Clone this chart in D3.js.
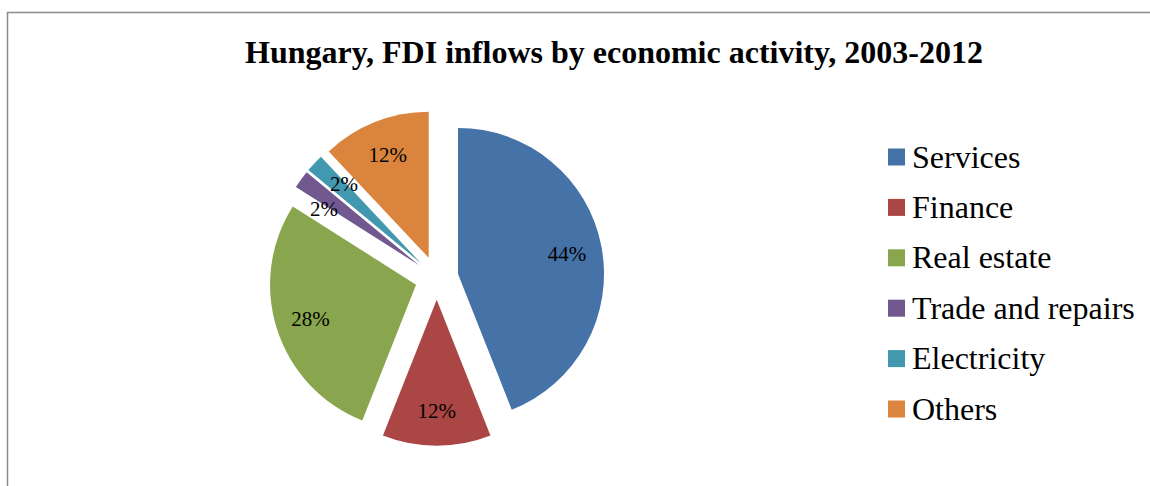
<!DOCTYPE html>
<html>
<head>
<meta charset="utf-8">
<script src="https://cdn.jsdelivr.net/npm/d3@7"></script>
<style>
  body { margin: 0; background: #fff; }
  svg { display: block; font-family: "Liberation Serif", "Times New Roman", serif; }
</style>
</head>
<body>
<svg width="1150" height="486"></svg>
<script>
const categories = ['Services', 'Finance', 'Real estate', 'Trade and repairs', 'Electricity', 'Others'];
const shares = [44, 12, 28, 2, 2, 12];
const colors = ['#4572A7', '#AA4643', '#89A54E', '#71588F', '#4198AF', '#DB843D'];
const title = 'Hungary, FDI inflows by economic activity, 2003-2012';

const data = categories.map((c, i) => ({name: c, value: shares[i], color: colors[i]}));

const svg = d3.select('svg');

// frame (runs off right and bottom like the source)
svg.append('rect')
  .attr('x', 7.5).attr('y', 12.5)
  .attr('width', 1200).attr('height', 600)
  .attr('fill', 'none')
  .attr('stroke', '#8c8c8c')
  .attr('stroke-width', 1.5);

svg.append('text')
  .attr('x', 614).attr('y', 63)
  .attr('text-anchor', 'middle')
  .style('font-size', '32px')
  .style('font-weight', 'bold')
  .text(title);

const cx = 436.7, cy = 278, r = 146, explode = 21.7;

const pie = d3.pie().value(d => d.value).sort(null);
const arc = d3.arc().innerRadius(0).outerRadius(r);

const g = svg.append('g').attr('transform', `translate(${cx},${cy})`);

const offset = d => {
  const a = (d.startAngle + d.endAngle) / 2;
  return [Math.sin(a) * explode, -Math.cos(a) * explode];
};

// thin slices get their labels pushed apart a little, as Excel does
const labelPos = (d, i, all) => {
  let a = (d.startAngle + d.endAngle) / 2;
  const thin = x => x && (x.endAngle - x.startAngle) < 0.2;
  if (thin(d)) {
    if (thin(all[i + 1])) a -= 0.09;
    if (thin(all[i - 1])) a += 0.05;
  }
  const rr = r * 0.76;
  return [Math.sin(a) * rr, -Math.cos(a) * rr];
};

const arcs = pie(data);

const slices = g.selectAll('.slice')
  .data(arcs)
  .enter()
  .append('g')
  .classed('slice', true)
  .attr('transform', d => `translate(${offset(d)})`);

slices.append('path')
  .attr('d', arc)
  .attr('fill', d => d.data.color);

slices.append('text')
  .attr('transform', (d, i) => `translate(${labelPos(d, i, arcs)})`)
  .attr('text-anchor', 'middle')
  .attr('dy', '0.35em')
  .style('font-size', '21px')
  .text(d => d.data.value + '%');

// legend
const legend = svg.append('g').attr('transform', 'translate(888,157)');
const rows = legend.selectAll('.row')
  .data(data)
  .enter()
  .append('g')
  .classed('row', true)
  .attr('transform', (d, i) => `translate(0,${i * 50.4})`);

rows.append('rect')
  .attr('x', 0).attr('y', -8.5)
  .attr('width', 17).attr('height', 17)
  .attr('fill', d => d.color);

rows.append('text')
  .attr('x', 24).attr('y', 0)
  .attr('dy', '0.33em')
  .style('font-size', '32px')
  .text(d => d.name);
</script>
</body>
</html>
